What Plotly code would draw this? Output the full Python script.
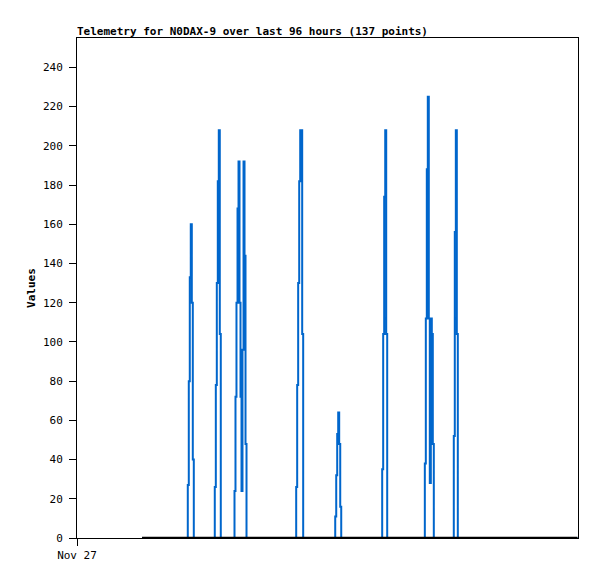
import plotly.graph_objects as go

# hours since Nov 27 00:00, telemetry readings
hours = [
    12.46, 14.10, 15.80, 17.50, 19.20, 20.40,
    21.04, 21.23, 21.42, 21.61, 21.80, 22.00, 22.19, 22.38,
    23.60, 24.90, 25.50,
    26.21, 26.40, 26.60, 26.79, 26.98, 27.17, 27.36, 27.55,
    28.40, 29.20,
    29.99, 30.18, 30.37, 30.56, 30.76, 30.95, 31.14, 31.33, 31.52, 31.71, 31.91, 32.10, 32.29, 32.48,
    33.60, 35.00, 36.40, 37.80, 39.20, 40.60,
    41.81, 42.00, 42.19, 42.38, 42.58, 42.77, 42.96, 43.15, 43.34,
    44.50, 45.80, 47.10, 48.40,
    49.29, 49.48, 49.67, 49.86, 50.05, 50.24, 50.44, 50.63,
    51.80, 53.10, 54.40, 55.70, 57.00,
    58.29, 58.48, 58.67, 58.86, 59.06, 59.25, 59.44,
    60.70, 62.00, 63.30, 64.60, 65.60,
    66.45, 66.65, 66.84, 67.03, 67.22, 67.41, 67.60, 67.80, 67.99, 68.18, 68.37,
    69.50, 70.80,
    72.01, 72.20, 72.39, 72.59, 72.78, 72.97,
    74.20, 75.60, 77.00, 78.40, 79.80, 81.20, 82.60, 84.00,
    85.40, 86.80, 88.20, 89.60, 91.00, 92.40, 93.80, 95.90,
]
values = [
    0, 0, 0, 0, 0, 0,
    0, 27, 80, 133, 160, 120, 40, 0,
    0, 0, 0,
    0, 26, 78, 130, 182, 208, 104, 0,
    0, 0,
    0, 24, 72, 120, 168, 192, 120, 72, 24, 96, 192, 144, 48, 0,
    0, 0, 0, 0, 0, 0,
    0, 26, 78, 130, 182, 208, 208, 104, 0,
    0, 0, 0, 0,
    0, 11, 32, 53, 64, 48, 16, 0,
    0, 0, 0, 0, 0,
    0, 35, 104, 174, 208, 104, 0,
    0, 0, 0, 0, 0,
    0, 38, 112, 188, 225, 112, 28, 112, 104, 48, 0,
    0, 0,
    0, 52, 156, 208, 104, 0,
    0, 0, 0, 0, 0, 0, 0, 0,
    0, 0, 0, 0, 0, 0, 0, 0,
]
y_ticks = list(range(0, 241, 20))
x_tick_vals = [0]
x_tick_text = ["Nov 27"]

mono = "DejaVu Sans Mono, Liberation Mono, monospace"

# the page puts the plot 8px in from the top-left corner
W, H = 589, 571

fig = go.Figure()

fig.add_trace(go.Scatter(
    x=hours, y=values, mode="lines",
    line=dict(color="#0066cc", width=2, shape="hv"),
    hoverinfo="x+y", showlegend=False,
))

# baseline along zero drawn over the line, as in the original
fig.add_trace(go.Scatter(
    x=hours, y=[0 for _ in values], mode="lines",
    line=dict(color="black", width=2.5),
    hoverinfo="skip", showlegend=False,
))

fig.update_layout(
    width=W, height=H,
    margin=dict(l=69, r=19, t=30, b=41),
    plot_bgcolor="white", paper_bgcolor="white",
    font=dict(family=mono, size=11, color="black"),
    title=dict(
        text="<b>Telemetry for N0DAX-9 over last 96 hours (137 points)</b>",
        x=69 / W, xanchor="left", xref="container",
        y=1 - 23 / H, yanchor="middle", yref="container",
        font=dict(family=mono, size=11, color="black"),
    ),
    xaxis=dict(
        range=[0, 96], tickvals=x_tick_vals, ticktext=x_tick_text,
        showgrid=False, zeroline=False,
        showline=True, mirror=True, linecolor="black", linewidth=1,
        ticks="outside", ticklen=7, tickcolor="black",
    ),
    yaxis=dict(
        range=[0, 255], tickvals=y_ticks,
        showgrid=False, zeroline=False,
        showline=True, mirror=True, linecolor="black", linewidth=1,
        ticks="outside", ticklen=7, tickcolor="black",
        ticklabelstandoff=4,
        title=dict(text="<b>Values</b>", standoff=5,
                   font=dict(family=mono, size=11)),
    ),
)

fig.write_html("out.html")
